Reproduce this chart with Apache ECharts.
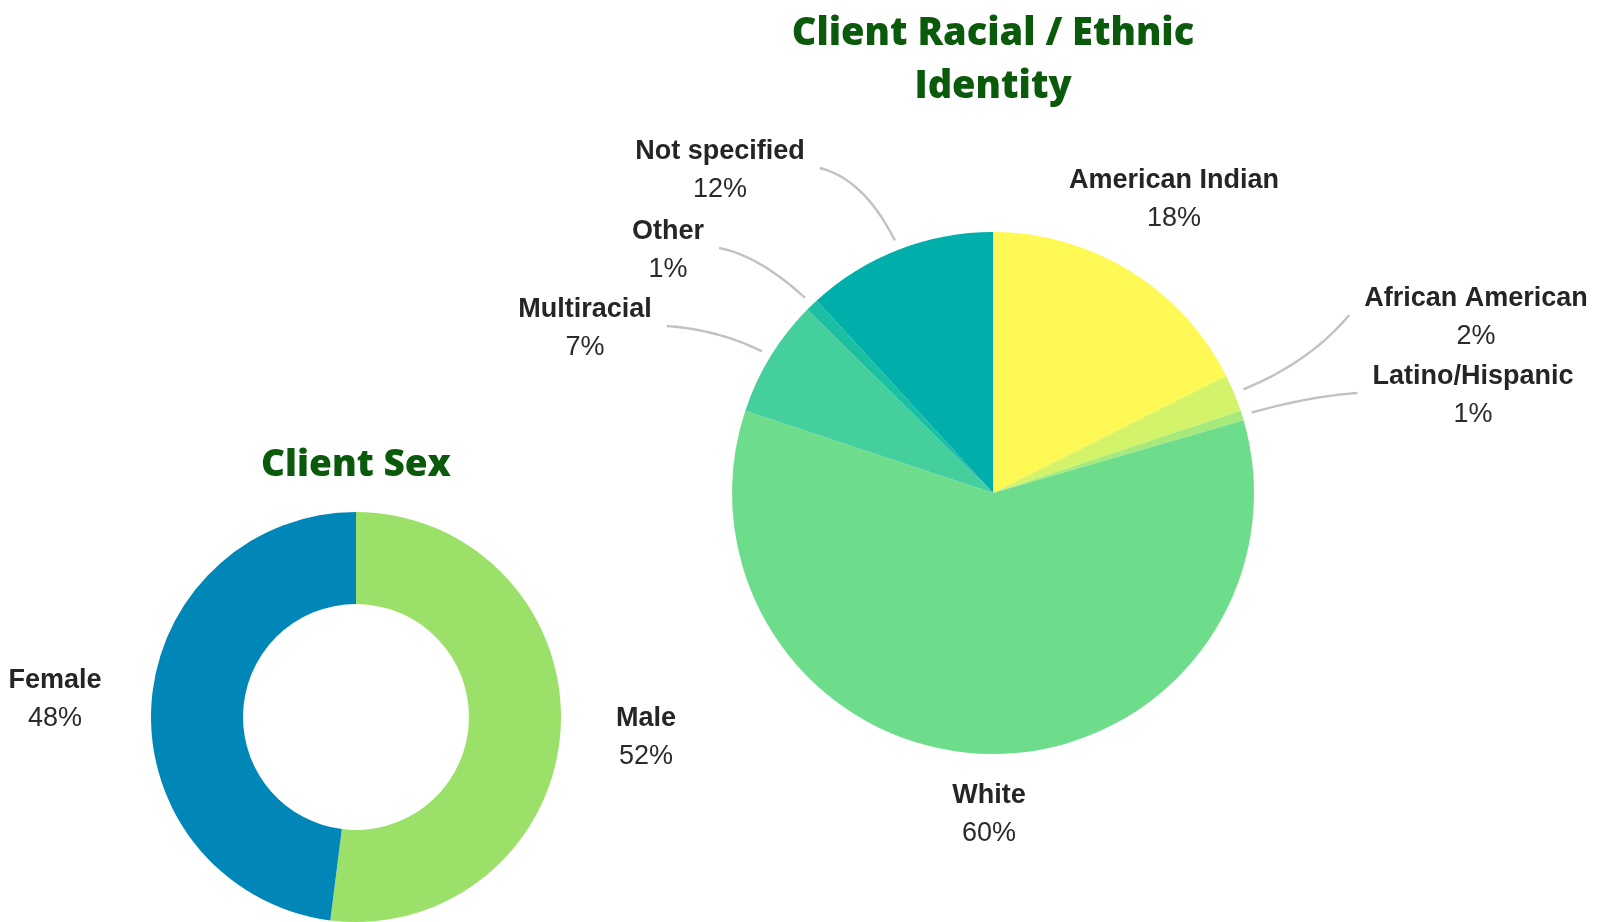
<!DOCTYPE html>
<html>
<head>
<meta charset="utf-8">
<title>Client Sex / Client Racial Identity</title>
<script src="https://cdn.jsdelivr.net/npm/echarts@6/dist/echarts.min.js"></script>
<style>
  html, body { margin: 0; padding: 0; background: #ffffff; }
  #main { width: 1608px; height: 922px; }
</style>
</head>
<body>
<div id="main"></div>
<script>
// data
const sexNames = ['Male', 'Female'];
const sexValues = [52, 48];
const sexColors = ['#9BE169', '#0087B7'];

const raceNames = ['American Indian', 'African American', 'Latino/Hispanic', 'White', 'Multiracial', 'Other', 'Not specified'];
const raceValues = [17.6, 2.3, 0.6, 59.6, 7.3, 0.8, 11.8];
const raceColors = ['#FFF955', '#D3F36A', '#A6EA7C', '#6EDD8B', '#45CF9D', '#1BBFA1', '#00AEAA'];
// slices whose label sits close enough to need no leader line
const raceNoLine = ['American Indian', 'White'];

// where each label block sits (centre of the two text lines)
const sexLabelSpots = [[646, 738], [55, 700]];
const raceLabelSpots = [[1174, 200], [1476, 318], [1473, 396], [989, 815], [585, 329], [668, 251], [720, 171]];

const pieCenter = [993, 493];
const pieRadius = 261;

const labelFont = "'Liberation Sans', Arial, sans-serif";
const titleFont = "'Open Sans', 'Lato', sans-serif";
const green = '#0B5A0B';

function richLabel() {
  return {
    show: true,
    overflow: 'none',
    formatter: function (p) {
      return '{n|' + p.name + '}\n{p|' + Math.round(p.percent) + '%}';
    },
    rich: {
      n: { fontFamily: labelFont, fontWeight: 'bold', fontSize: 27, color: '#252525', lineHeight: 38, align: 'center' },
      p: { fontFamily: labelFont, fontSize: 27, color: '#2b2b2b', lineHeight: 38, align: 'center' }
    }
  };
}

// mid angle of each slice, measured clockwise from 12 o'clock
const raceTotal = raceValues.reduce(function (a, b) { return a + b; }, 0);
const raceMid = [];
let acc = 0;
raceValues.forEach(function (v) {
  raceMid.push((acc + v / 2) / raceTotal * Math.PI * 2);
  acc += v;
});

// sample a quadratic curve so the leader line is a soft arc
function arcPoints(p0, c, p1) {
  const pts = [];
  for (let k = 0; k <= 24; k++) {
    const t = k / 24, u = 1 - t;
    pts.push([u * u * p0[0] + 2 * u * t * c[0] + t * t * p1[0], u * u * p0[1] + 2 * u * t * c[1] + t * t * p1[1]]);
  }
  return pts;
}

function raceLabelLayout(p) {
  const i = p.dataIndex;
  const s = raceLabelSpots[i];
  const out = { x: s[0], y: s[1], align: 'center', verticalAlign: 'middle' };
  if (raceNoLine.indexOf(raceNames[i]) >= 0) return out;
  const a = raceMid[i];
  const sx = Math.sin(a), cy = Math.cos(a);
  // line ends just outside the slice edge
  const end = [pieCenter[0] + (pieRadius + 10) * sx, pieCenter[1] - (pieRadius + 10) * cy];
  // and starts beside the label block
  const half = p.labelRect.width / 2 + 15;
  const start = [sx > 0 ? s[0] - half : s[0] + half, s[1] - 3];
  const mid = [(start[0] + end[0]) / 2, (start[1] + end[1]) / 2];
  // bend toward where the label's row meets the slice's radial direction
  const t = (pieCenter[1] - start[1]) / cy;
  let ctrl = [pieCenter[0] + t * sx, start[1]];
  const lo = Math.min(start[0], end[0]), hi = Math.max(start[0], end[0]);
  if (!(t > 0) || ctrl[0] < lo || ctrl[0] > hi) {
    ctrl = [mid[0] + (start[0] - end[0]) * 0.12, mid[1] + Math.abs(start[0] - end[0]) * 0.1];
  } else {
    ctrl = [ctrl[0] + (mid[0] - ctrl[0]) * 0.3, ctrl[1] + (mid[1] - ctrl[1]) * 0.3];
  }
  out.labelLinePoints = arcPoints(end, ctrl, start);
  return out;
}

const myChart = echarts.init(document.getElementById('main'), null, { renderer: 'canvas' });

const option = {
  backgroundColor: '#ffffff',
  animation: false,
  title: [
    {
      text: 'Client Racial / Ethnic\nIdentity',
      left: 993,
      top: 8,
      textAlign: 'center',
      padding: 0,
      textStyle: { fontFamily: titleFont, fontWeight: 800, fontSize: 38, color: green, lineHeight: 53 }
    },
    {
      text: 'Client Sex',
      left: 356,
      top: 444,
      textAlign: 'center',
      padding: 0,
      textStyle: { fontFamily: titleFont, fontWeight: 800, fontSize: 37, color: green, lineHeight: 42 }
    }
  ],
  series: [
    {
      name: 'Client Sex',
      type: 'pie',
      center: [356, 717],
      radius: [113, 205],
      startAngle: 90,
      clockwise: true,
      label: richLabel(),
      labelLine: { show: false },
      labelLayout: function (p) {
        const s = sexLabelSpots[p.dataIndex];
        return { x: s[0], y: s[1], align: 'center', verticalAlign: 'middle' };
      },
      emphasis: { disabled: true },
      data: sexNames.map(function (n, i) {
        return { name: n, value: sexValues[i], itemStyle: { color: sexColors[i] } };
      })
    },
    {
      name: 'Client Racial / Ethnic Identity',
      type: 'pie',
      center: pieCenter,
      radius: [0, pieRadius],
      startAngle: 90,
      clockwise: true,
      label: richLabel(),
      labelLine: {
        show: true,
        smooth: false,
        lineStyle: { color: '#c2c2c2', width: 2.4 }
      },
      labelLayout: raceLabelLayout,
      emphasis: { disabled: true },
      data: raceNames.map(function (n, i) {
        const d = { name: n, value: raceValues[i], itemStyle: { color: raceColors[i] } };
        if (raceNoLine.indexOf(n) >= 0) d.labelLine = { show: false };
        return d;
      })
    }
  ]
};

myChart.setOption(option);
</script>
</body>
</html>
